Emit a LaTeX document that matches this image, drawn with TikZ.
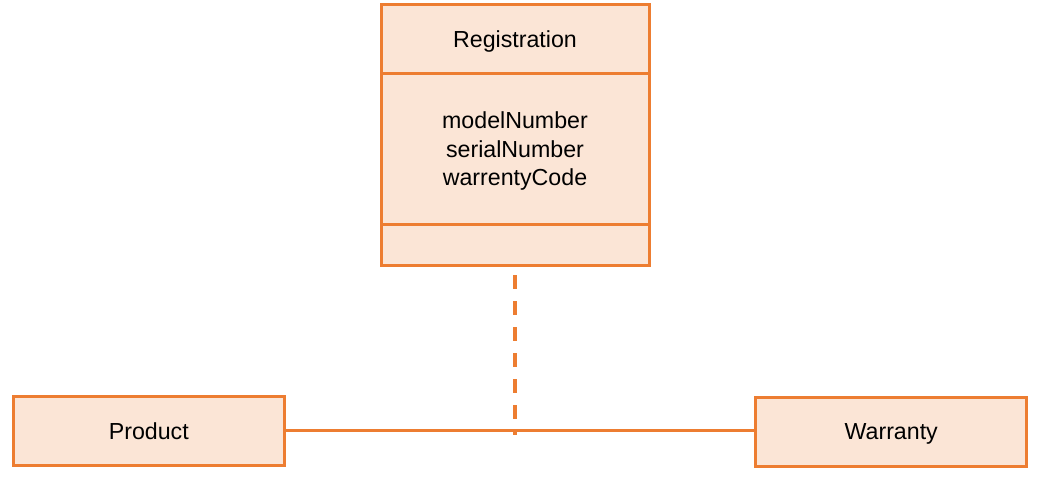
\documentclass[tikz,border=0pt]{standalone}
\usepackage{fontspec}
\setmainfont{Liberation Sans}
\definecolor{umlorange}{HTML}{ED7D31}
\definecolor{umlfill}{HTML}{FBE5D6}
\begin{document}
\begin{tikzpicture}[x=0.75pt,y=-0.75pt,
    classbox/.style={draw=umlorange,fill=umlfill,line width=2.25pt,inner sep=0pt,
        minimum width=201pt,text depth=0pt,align=center,font=\fontsize{17.4}{21.4}\selectfont},
    endbox/.style={classbox,minimum width=203.25pt,minimum height=52pt},
    assocline/.style={umlorange,line width=2.25pt},
    assocdash/.style={umlorange,line width=2.6pt,dash pattern=on 10.5pt off 9pt}]
    \useasboundingbox (0,0) rectangle (1042,480);
    \node [classbox,minimum height=51.4pt] (reg) at (515,39.25) {Registration};
    \node [classbox,minimum height=113.25pt] (regattr) at (515,149) {modelNumber\\serialNumber\\warrentyCode};
    \node [classbox,minimum height=30.4pt] (regops) at (515,244.75) {};
    \node [endbox] (product) at (148.8,430.8) {Product};
    \node [endbox] (warranty) at (891.2,432) {Warranty};
    \coordinate (assoc) at (515,435);
    \draw [assocline] (product.east) -- (product.east -| warranty.west);
    \draw [assocdash] ([yshift=-6.4pt]regops.south) -- (assoc);
\end{tikzpicture}
\end{document}
